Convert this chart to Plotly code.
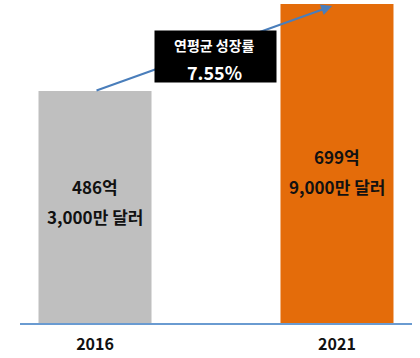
import plotly.graph_objects as go

# ---- data ----
years = ["2016", "2021"]
values = [486.3, 699.9]            # 억 달러
value_line1 = ["486억", "699억"]
value_line2 = ["3,000만 달러", "9,000만 달러"]
bar_colors = ["#bfbfbf", "#e46c0a"]
cagr_title = "연평균 성장률"
cagr_value = "7.55%"

FONT = "Noto Sans CJK KR"
BASE = -83  # visual baseline of the (non-zero-based) value axis

fig = go.Figure()
fig.add_trace(go.Bar(
    x=years, y=[v - BASE for v in values], base=BASE,
    marker=dict(color=bar_colors, line=dict(width=0)),
    width=0.467, hoverinfo="skip",
))

annotations = []
# growth arrow from the top of first bar to the top of the second bar
annotations.append(dict(
    x=0.98, y=values[1] - 5, xref="x", yref="y",
    ax=0, ay=values[0], axref="x", ayref="y",
    text="", showarrow=True, arrowhead=2, arrowsize=1.1,
    arrowwidth=2, arrowcolor="#4a7ebb", standoff=0, startstandoff=0,
))
# black box
annotations.append(dict(
    x=0.4987, y=0.8339, xref="paper", yref="paper",
    text=" ", showarrow=False, bgcolor="black", width=121, height=51,
    borderpad=0, xanchor="center", yanchor="middle",
))
annotations.append(dict(
    x=0.4955, y=0.8715, xref="paper", yref="paper", showarrow=False,
    text="<b>%s</b>" % cagr_title, font=dict(family=FONT, size=14, color="white"),
    xanchor="center", yanchor="middle",
))
annotations.append(dict(
    x=0.4955, y=0.7868, xref="paper", yref="paper", showarrow=False,
    text="<b>%s</b>" % cagr_value, font=dict(family=FONT, size=18, color="white"),
    xanchor="center", yanchor="middle",
))
# bar value labels
line1_y = [0.4273, 0.5213]
line2_y = [0.3332, 0.4273]
for i, yr in enumerate(years):
    annotations.append(dict(
        x=i, y=line1_y[i], xref="x", yref="paper", showarrow=False,
        text="<b>%s</b>" % value_line1[i], font=dict(family=FONT, size=17, color="#111111"),
        xanchor="center", yanchor="middle",
    ))
    annotations.append(dict(
        x=i, y=line2_y[i], xref="x", yref="paper", showarrow=False,
        text="<b>%s</b>" % value_line2[i], font=dict(family=FONT, size=17, color="#111111"),
        xanchor="center", yanchor="middle",
    ))

fig.update_layout(
    width=420, height=358,
    margin=dict(l=20, r=8, t=4, b=35),
    paper_bgcolor="white", plot_bgcolor="white",
    showlegend=False,
    annotations=annotations,
    xaxis=dict(
        type="category", range=[-0.31, 1.31],
        showline=True, linecolor="#6a9bd1", linewidth=1.5,
        showgrid=False, zeroline=False, ticks="",
        tickvals=years, ticktext=["<b>%s</b>" % y for y in years],
        tickfont=dict(family=FONT, size=16, color="#111111"),
        ticklabelstandoff=6,
        fixedrange=True,
    ),
    yaxis=dict(
        range=[BASE, values[1]], visible=False, showgrid=False, zeroline=False,
        fixedrange=True,
    ),
)

fig.write_html(
    "out.html",
    config={"displayModeBar": False},
    post_script="document.body.style.margin='0';document.body.style.padding='0';document.body.style.overflow='hidden';",
)
